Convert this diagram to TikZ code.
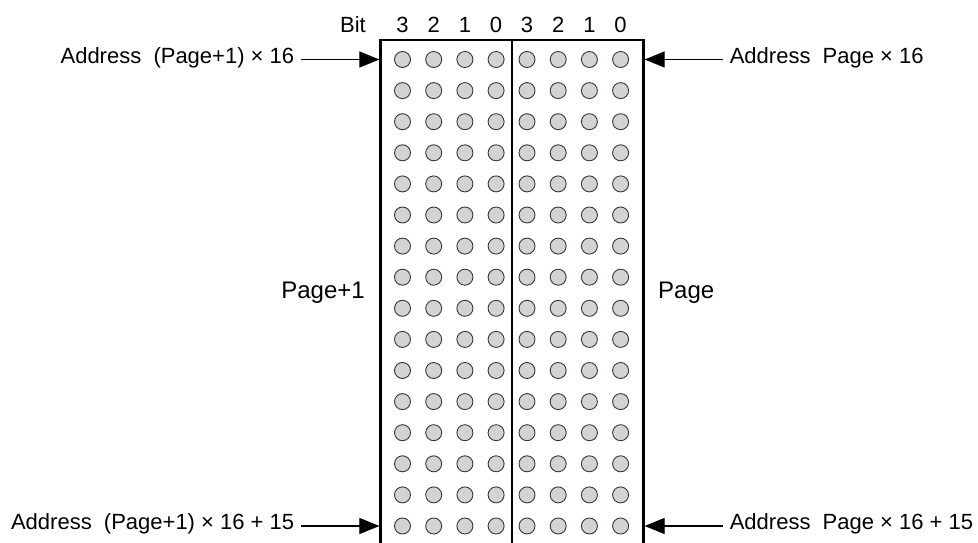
\documentclass[tikz,border=0pt]{standalone}
\usepackage{fontspec}
\setmainfont{Liberation Sans}
\usepackage{tikz}
\usetikzlibrary{arrows.meta, positioning}
\definecolor{dotgray}{RGB}{209,211,212}
\definecolor{dotedge}{RGB}{55,55,55}
\tikzset{
  memframe/.style={
      draw=black,
      line width=2.2pt
  },
  bitdot/.style={
      circle,
      draw=dotedge,
      fill=dotgray,
      line width=0.9pt,
      minimum size=16pt,
      inner sep=0pt
  },
  addrlabel/.style={
      font=\fontsize{22}{26}\selectfont,
      inner xsep=7pt,
      inner ysep=2pt,
      yshift=2pt
  },
  pagelabel/.style={
      font=\fontsize{24}{28}\selectfont,
      inner sep=2pt
  },
  bitlabel/.style={
      font=\fontsize{22}{26}\selectfont,
      inner sep=1pt
  },
  arrow/.style={-{Triangle[length=20pt,width=16pt]}, line width=1.1pt}
}

\begin{document}
\begin{tikzpicture}[x=1pt, y=-1pt, node distance=78pt]
      \useasboundingbox (0,0) rectangle (978,543);

      % Memory frame
      \draw[memframe] (380.5,543) -- (380.5,40) -- (643.5,40) -- (643.5,543);
      \draw[memframe] (512,40) -- (512,543);

      % Bit cells
      \foreach \r in {0,...,15} {
        \foreach \c in {0,...,3} {
          \node[bitdot] (hi-\r-\c) at (402.5+31.2*\c, 59.5+31.1*\r) {};
          \node[bitdot] (lo-\r-\c) at (527+31.2*\c, 59.5+31.1*\r) {};
        }
      }

      % Bit numbers
      \node[bitlabel] (bit) at (353,25) {Bit};
      \foreach \c/\b in {0/3, 1/2, 2/1, 3/0} {
        \node[bitlabel] (hibit-\b) at (402.5+31.2*\c,25) {\b};
        \node[bitlabel] (lobit-\b) at (527+31.2*\c,25) {\b};
      }

      % Page labels
      \node[pagelabel, anchor=east] (hipage) at (367,293) {Page+1};
      \node[pagelabel, anchor=west] (lopage) at (656,293) {Page};

      % Frame edge points
      \coordinate (hitop) at (379.4,59.5);
      \coordinate (lotop) at (644.6,59.5);
      \coordinate (hibot) at (379.4,526);
      \coordinate (lobot) at (644.6,526);

      % Address labels
      \node (hifirst) [addrlabel, left=of hitop] {Address~~(Page+1) × 16};
      \node (lofirst) [addrlabel, right=of lotop] {Address~~Page × 16};
      \node (hilast) [addrlabel, left=of hibot] {Address~~(Page+1) × 16 + 15};
      \node (lolast) [addrlabel, right=of lobot] {Address~~Page × 16 + 15};

      % Connections
      \draw[arrow] (hifirst.east |- hitop) -- (hitop);
      \draw[arrow] (lofirst.west |- lotop) -- (lotop);
      \draw[arrow] (hilast.east |- hibot) -- (hibot);
      \draw[arrow] (lolast.west |- lobot) -- (lobot);
\end{tikzpicture}
\end{document}
